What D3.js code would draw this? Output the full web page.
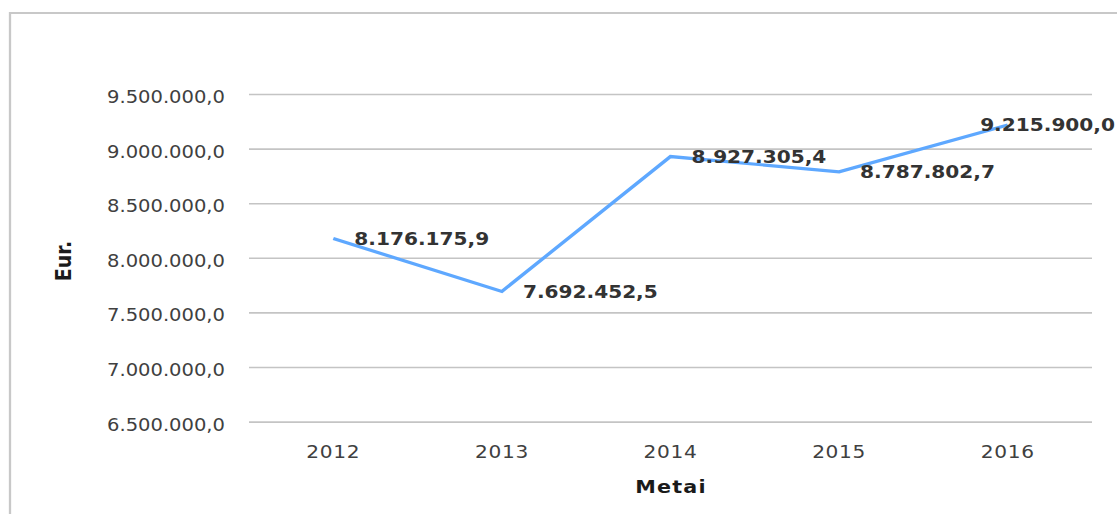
<!DOCTYPE html>
<html>
<head>
<meta charset="utf-8">
<script src="https://cdn.jsdelivr.net/npm/d3@7"></script>
<style>
  body { margin: 0; background: #fff; }
  svg { display: block; }
</style>
</head>
<body>
<svg id="chart" width="1117" height="514"></svg>
<script>
// data
const years = ["2012", "2013", "2014", "2015", "2016"];
const values = [8176175.9, 7692452.5, 8927305.4, 8787802.7, 9215900.0];
const yTicks = [6500000, 7000000, 7500000, 8000000, 8500000, 9000000, 9500000];

const width = 1117, height = 514;
// the original picture is stretched sideways, so draw in a squeezed space
const sx = 1.15;
const plotLeft = 249, plotRight = 1092, plotTop = 94, plotBottom = 421.6;

const lt = d3.formatLocale({ decimal: ",", thousands: ".", grouping: [3], currency: ["", ""] });
const fmt = lt.format(",.1f");

const svg = d3.select("#chart");
const g = svg.append("g").attr("transform", `scale(${sx},1)`);

// outer border
g.append("rect")
  .attr("x", 10 / sx).attr("y", 13)
  .attr("width", width).attr("height", height)
  .attr("fill", "none")
  .attr("stroke", "#c8c8c8")
  .attr("stroke-width", 2);

const x = d3.scaleBand()
  .domain(years)
  .range([plotLeft / sx, plotRight / sx]);

const y = d3.scaleLinear()
  .domain([6500000, 9500000])
  .range([plotBottom, plotTop]);

// y axis + grid
const yAxis = g.append("g")
  .attr("transform", `translate(${plotLeft / sx},0)`)
  .call(d3.axisLeft(y).tickValues(yTicks).tickFormat(fmt)
    .tickSize(-(plotRight - plotLeft) / sx).tickPadding(24 / sx));
yAxis.select(".domain").remove();
yAxis.selectAll(".tick line").attr("stroke", "#c4c4c4").attr("stroke-width", 1.6);
yAxis.selectAll(".tick text")
  .attr("dy", "0.5em")
  .attr("fill", "#404040")
  .style("font-family", "DejaVu Sans, Verdana, sans-serif")
  .style("font-size", "17px");

// x axis labels
const xAxis = g.append("g")
  .attr("transform", `translate(0,${plotBottom})`)
  .call(d3.axisBottom(x).tickSize(0).tickPadding(23.5));
xAxis.select(".domain").remove();
xAxis.selectAll(".tick text")
  .attr("fill", "#404040")
  .style("font-family", "DejaVu Sans, Verdana, sans-serif")
  .style("font-size", "17.5px")
  .style("letter-spacing", "0.6px");

// line
const line = d3.line()
  .x((d, i) => x(years[i]) + x.bandwidth() / 2)
  .y(d => y(d));

g.append("path")
  .datum(values)
  .attr("fill", "none")
  .attr("stroke", "#5ea8ff")
  .attr("stroke-width", 3.2)
  .attr("stroke-linejoin", "miter")
  .attr("d", line);

// data labels
g.selectAll(".lbl")
  .data(values)
  .enter().append("text")
  .attr("class", "lbl")
  .attr("x", (d, i) => x(years[i]) + x.bandwidth() / 2 + 21 / sx)
  .attr("y", d => y(d))
  .attr("dy", "0.36em")
  .attr("fill", "#333")
  .style("font-family", "DejaVu Sans, Verdana, sans-serif")
  .style("font-weight", "bold")
  .style("font-size", "17.5px")
  .text(d => fmt(d))
  .each(function () {
    // keep inside the picture, like the original does for the last one
    const t = d3.select(this);
    const len = this.getComputedTextLength();
    if ((+t.attr("x") + len) * sx > width - 2) {
      t.attr("x", (width - 2) / sx - len);
    }
  });

// axis titles
g.append("text")
  .attr("x", 671 / sx).attr("y", 493)
  .attr("text-anchor", "middle")
  .attr("fill", "#1a1a1a")
  .style("font-family", "DejaVu Sans, Verdana, sans-serif")
  .style("font-weight", "bold")
  .style("font-size", "18px")
  .style("letter-spacing", "1px")
  .text("Metai");

g.append("text")
  .attr("transform", `translate(${71 / sx},261) rotate(-90)`)
  .attr("text-anchor", "middle")
  .attr("fill", "#1a1a1a")
  .style("font-family", "DejaVu Sans, Verdana, sans-serif")
  .style("font-weight", "bold")
  .style("font-size", "19px")
  .text("Eur.");
</script>
</body>
</html>
